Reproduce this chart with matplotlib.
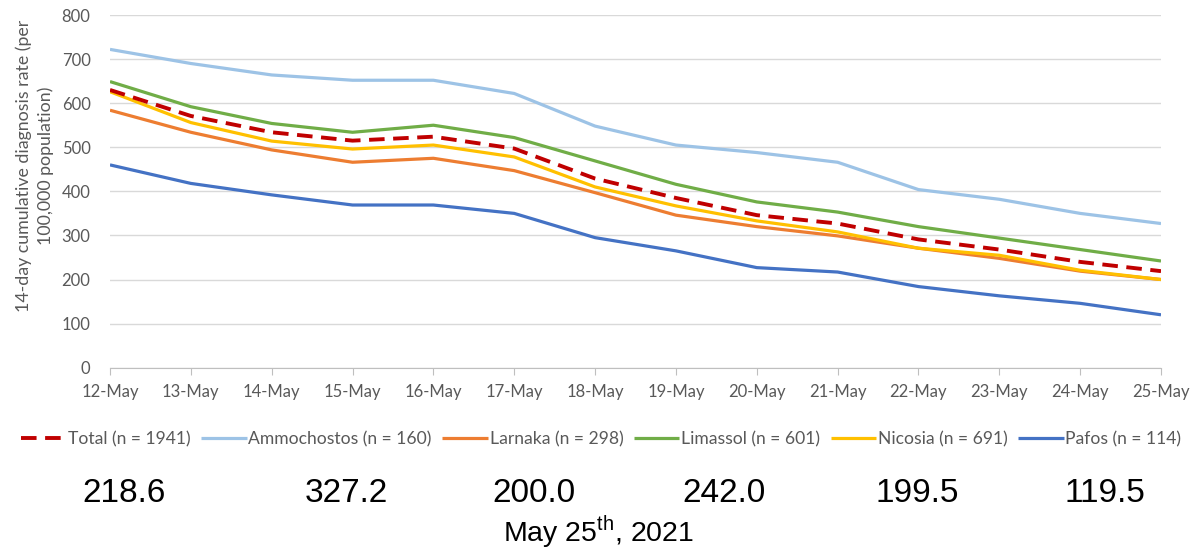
import matplotlib.pyplot as plt

plt.rcParams['font.family'] = ['Lato', 'DejaVu Sans']
plt.rcParams['mathtext.fontset'] = 'custom'
plt.rcParams['mathtext.rm'] = 'Liberation Sans'

dates = ['12-May', '13-May', '14-May', '15-May', '16-May', '17-May', '18-May',
         '19-May', '20-May', '21-May', '22-May', '23-May', '24-May', '25-May']

total = [630, 571, 534, 515, 524, 497, 429, 385, 346, 327, 291, 268, 240, 219]
ammochostos = [722, 690, 664, 652, 652, 622, 548, 505, 488, 466, 404, 382, 350, 327]
larnaka = [584, 534, 494, 466, 475, 447, 397, 346, 320, 299, 271, 248, 219, 200]
limassol = [649, 592, 554, 534, 550, 522, 469, 416, 376, 353, 320, 294, 268, 242]
nicosia = [626, 556, 514, 496, 505, 478, 410, 367, 333, 308, 271, 255, 221, 200]
pafos = [460, 418, 392, 369, 369, 350, 295, 265, 227, 217, 184, 163, 146, 120]

series = [
    ('Ammochostos (n = 160)', ammochostos, '#9DC3E6'),
    ('Larnaka (n = 298)', larnaka, '#ED7D31'),
    ('Limassol (n = 601)', limassol, '#70AD47'),
    ('Nicosia (n = 691)', nicosia, '#FFC000'),
    ('Pafos (n = 114)', pafos, '#4472C4'),
]

latest_rates = ['218.6', '327.2', '200.0', '242.0', '199.5', '119.5']
rate_x = [124, 346, 534, 724, 917, 1105]

fig = plt.figure(figsize=(12.02, 5.54), dpi=100)
ax = fig.add_axes([110 / 1202, 1 - 367.7 / 554, (1161 - 110) / 1202, (367.7 - 15) / 554])

x = range(len(dates))
handles = []
for label, vals, color in series:
    h, = ax.plot(x, vals, color=color, lw=2.3, label=label, solid_capstyle='butt')
    handles.append(h)
h_tot, = ax.plot(x, total, color='#C00000', lw=2.8, ls=(0, (4, 2.2)), label='Total (n = 1941)', zorder=5)
handles.insert(0, h_tot)

ax.set_xlim(0, len(dates) - 1)
ax.set_ylim(0, 800)
ax.set_yticks(range(0, 801, 100))
ax.set_xticks(list(x))
ax.set_xticklabels(dates)
ax.grid(axis='y', color='#D9D9D9', lw=1)
ax.set_axisbelow(True)
for s in ['top', 'right', 'left']:
    ax.spines[s].set_visible(False)
ax.spines['bottom'].set_color('#BFBFBF')
ax.tick_params(axis='y', length=0, pad=14, labelsize=12, labelcolor='#595959')
ax.tick_params(axis='x', length=5, color='#BFBFBF', pad=7, labelsize=12, labelcolor='#595959')

ax.set_ylabel('14-day cumulative diagnosis rate (per\n100,000 population)',
              fontsize=12.8, color='#595959', linespacing=1.4)
ax.yaxis.set_label_coords(-0.053, 0.572)

fig.legend(handles=handles, loc='center', bbox_to_anchor=(0.5, 1 - 439 / 554), ncol=6,
           frameon=False, fontsize=12.6, labelcolor='#595959', handlelength=2.6,
           handletextpad=0.1, columnspacing=0.6)

for val, px in zip(latest_rates, rate_x):
    fig.text(px / 1202, 1 - 494 / 554, val, ha='center', va='center',
             fontsize=24, family='Liberation Sans', color='black')

fig.text(598 / 1202, 1 - 532 / 554, r'May 25$^{\mathrm{th}}$, 2021', ha='center', va='center',
         fontsize=20.5, family='Liberation Sans', color='black')

fig.savefig('out.png', dpi=100)
